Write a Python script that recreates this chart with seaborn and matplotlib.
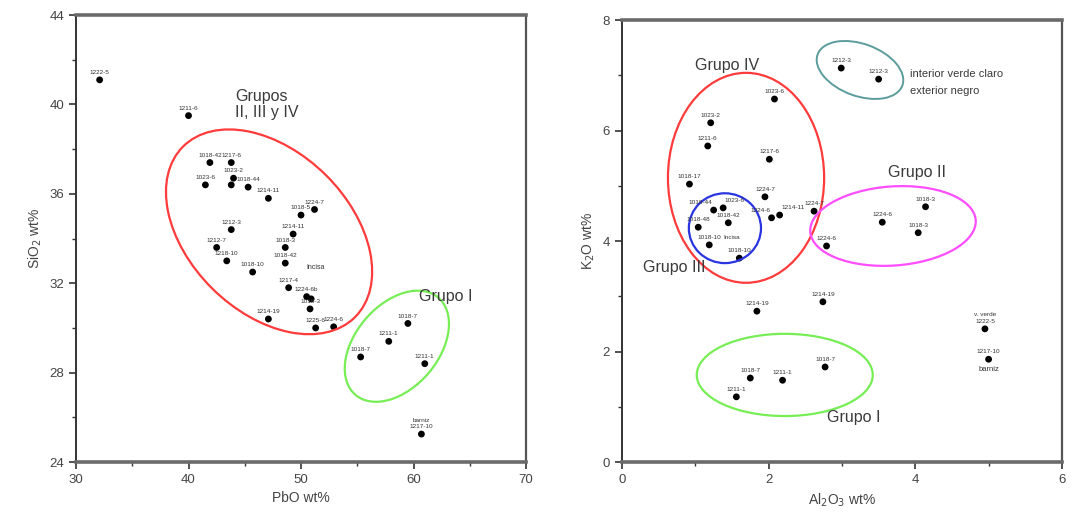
import matplotlib
matplotlib.use("Agg")
import matplotlib.pyplot as plt
import seaborn as sns
import pandas as pd
from matplotlib.patches import Ellipse

# ---------------- data: left panel (PbO vs SiO2) ----------------
pbo = [32.1, 40.0, 41.9, 43.8, 41.5, 44.0, 43.8, 45.3, 47.1, 50.0, 51.2, 43.8,
       49.3, 42.5, 43.4, 45.7, 48.6, 48.6, 48.9, 50.5, 50.9, 50.8, 47.1, 51.3,
       52.9, 59.5, 57.8, 55.3, 61.0, 60.7]
sio2 = [41.1, 39.5, 37.4, 37.4, 36.4, 36.7, 36.4, 36.3, 35.8, 35.05, 35.3, 34.4,
        34.2, 33.6, 33.0, 32.5, 33.6, 32.9, 31.8, 31.4, 31.3, 30.85, 30.4, 30.0,
        30.05, 30.2, 29.4, 28.7, 28.4, 25.25]
left_labels = ["1222-5", "1211-6", "1018-42", "1217-6", "1023-6", "1023-2", "",
               "1018-44", "1214-11", "1018-5", "1224-7", "1212-3", "1214-11",
               "1212-7", "1218-10", "1018-10", "1018-3", "1018-42", "1217-4",
               "1224-6b", "", "1018-3", "1214-19", "1225-6", "1224-6", "1018-7",
               "1211-1", "1018-7", "1211-1", "barniz\n1217-10"]

# ---------------- data: right panel (Al2O3 vs K2O) ----------------
al2o3 = [2.08, 1.21, 1.17, 2.01, 0.92, 1.95, 2.62, 1.25, 1.38, 1.45, 1.04, 1.19,
         1.60, 2.04, 2.15, 2.79, 3.55, 4.14, 4.04, 2.99, 3.50, 1.84, 2.74, 2.77,
         1.75, 2.19, 1.56, 4.95, 5.00]
k2o = [6.57, 6.14, 5.72, 5.48, 5.03, 4.80, 4.54, 4.56, 4.60, 4.33, 4.25, 3.93,
       3.69, 4.42, 4.47, 3.91, 4.34, 4.62, 4.15, 7.13, 6.93, 2.73, 2.90, 1.72,
       1.52, 1.48, 1.18, 2.41, 1.86]
right_labels = ["1023-6", "1023-2", "1211-6", "1217-6", "1018-17", "1224-7",
                "1224-7", "1018-44", "1023-6", "1018-42", "1018-48", "1018-10",
                "1018-10", "1224-6", "1214-11", "1224-6", "1224-6", "1018-3",
                "1018-3", "1212-3", "1212-3", "1214-19", "1214-19", "1018-7",
                "1018-7", "1211-1", "1211-1", "v. verde\n1222-5", "1217-10"]

df_left = pd.DataFrame({"PbO": pbo, "SiO2": sio2, "label": left_labels})
df_right = pd.DataFrame({"Al2O3": al2o3, "K2O": k2o, "label": right_labels})

# label placement tweaks (index -> (dx, dy, ha)) for crowded spots
right_offsets = {7: (-1, 3.5, "right"), 8: (1, 3.5, "left"),
                 13: (-1, 3.5, "right"), 14: (1, 3.5, "left")}

sns.set_theme(style="white")
plt.rcParams["font.family"] = ["Liberation Sans", "DejaVu Sans"]

fig = plt.figure(figsize=(10.72, 5.24), dpi=100)
axL = fig.add_axes([0.0709, 0.1183, 0.4198, 0.853])
axR = fig.add_axes([0.5802, 0.1183, 0.4104, 0.8435])

lab_col = "#333333"
txt_col = "#3a3a3a"


def style_axes(ax):
    for side in ["top", "bottom"]:
        ax.spines[side].set_linewidth(2.6)
        ax.spines[side].set_color("#6a6a6a")
    ax.spines["left"].set_linewidth(1.4)
    ax.spines["left"].set_color("#333333")
    ax.spines["right"].set_linewidth(1.6)
    ax.spines["right"].set_color("#555555")
    ax.tick_params(axis="both", which="major", direction="out", length=5,
                   width=1.2, color="#333333", labelsize=9.5, labelcolor="#444444",
                   bottom=True, left=True)
    ax.tick_params(axis="both", which="minor", direction="out", length=3,
                   width=1.0, color="#333333", bottom=True, left=True)


# ---------------- left panel ----------------
sns.scatterplot(data=df_left, x="PbO", y="SiO2", ax=axL, color="black", s=24,
                edgecolor="none", legend=False)
for x, y, t in zip(df_left["PbO"], df_left["SiO2"], df_left["label"]):
    if t:
        axL.annotate(t, (x, y), xytext=(0, 3.5), textcoords="offset points",
                     ha="center", va="bottom", fontsize=4.6, color=lab_col,
                     linespacing=1.3)
axL.annotate("Incisa", (51.3, 32.55), ha="center", va="bottom", fontsize=5,
             color=lab_col)

axL.set_xlim(30, 70)
axL.set_ylim(24, 44)
axL.set_xticks([30, 40, 50, 60, 70])
axL.set_xticks([35, 45, 55, 65], minor=True)
axL.set_yticks([24, 28, 32, 36, 40, 44])
axL.set_yticks([26, 30, 34, 38, 42], minor=True)
axL.set_xlabel("PbO wt%", fontsize=10, color="#444444", labelpad=4)
axL.set_ylabel("SiO$_2$ wt%", fontsize=10, color="#444444", labelpad=4)
style_axes(axL)

axL.add_patch(Ellipse((0.429, 0.515), 0.54, 0.358, angle=-45, transform=axL.transAxes,
                      fill=False, edgecolor="#ff3b3b", linewidth=1.6))
axL.add_patch(Ellipse((0.713, 0.259), 0.285, 0.185, angle=50, transform=axL.transAxes,
                      fill=False, edgecolor="#77ee55", linewidth=1.6))
axL.text(0.353, 0.80, "Grupos\nII, III y IV", transform=axL.transAxes, ha="left",
         va="center", fontsize=11.5, color=txt_col, linespacing=1.05)
axL.text(0.762, 0.371, "Grupo I", transform=axL.transAxes, ha="left",
         va="center", fontsize=11.5, color=txt_col)

# ---------------- right panel ----------------
sns.scatterplot(data=df_right, x="Al2O3", y="K2O", ax=axR, color="black", s=24,
                edgecolor="none", legend=False)
for i, (x, y, t) in enumerate(zip(df_right["Al2O3"], df_right["K2O"],
                                  df_right["label"])):
    if t:
        dx, dy, ha = right_offsets.get(i, (0, 3.5, "center"))
        axR.annotate(t, (x, y), xytext=(dx, dy), textcoords="offset points",
                     ha=ha, va="bottom", fontsize=4.6, color=lab_col,
                     linespacing=1.5)
axR.annotate("barniz", (5.0, 1.86), xytext=(0, -5), textcoords="offset points",
             ha="center", va="top", fontsize=5.5, color=lab_col)
axR.annotate("Incisa", (1.50, 3.93), xytext=(0, 3.5), textcoords="offset points",
             ha="center", va="bottom", fontsize=4.6, color=lab_col)

axR.set_xlim(0, 6)
axR.set_ylim(0, 8)
axR.set_xticks([0, 2, 4, 6])
axR.set_xticks([1, 3, 5], minor=True)
axR.set_yticks([0, 2, 4, 6, 8])
axR.set_yticks([1, 3, 5, 7], minor=True)
axR.set_xlabel("Al$_2$O$_3$ wt%", fontsize=10, color="#444444", labelpad=4)
axR.set_ylabel("K$_2$O wt%", fontsize=10, color="#444444", labelpad=4)
style_axes(axR)

axR.add_patch(Ellipse((0.282, 0.643), 0.355, 0.475, angle=0, transform=axR.transAxes,
                      fill=False, edgecolor="#ff3b3b", linewidth=1.6))
axR.add_patch(Ellipse((0.234, 0.529), 0.164, 0.158, angle=0, transform=axR.transAxes,
                      fill=False, edgecolor="#2a35e0", linewidth=1.6))
axR.add_patch(Ellipse((0.616, 0.534), 0.377, 0.179, angle=4, transform=axR.transAxes,
                      fill=False, edgecolor="#ff4dff", linewidth=1.6))
axR.add_patch(Ellipse((0.541, 0.887), 0.205, 0.118, angle=-20, transform=axR.transAxes,
                      fill=False, edgecolor="#5c9c9c", linewidth=1.4))
axR.add_patch(Ellipse((0.370, 0.197), 0.400, 0.186, angle=0, transform=axR.transAxes,
                      fill=False, edgecolor="#77ee55", linewidth=1.6))

axR.text(0.166, 0.896, "Grupo IV", transform=axR.transAxes, ha="left", va="center",
         fontsize=11.5, color=txt_col)
axR.text(0.605, 0.656, "Grupo II", transform=axR.transAxes, ha="left", va="center",
         fontsize=11.5, color=txt_col)
axR.text(0.048, 0.439, "Grupo III", transform=axR.transAxes, ha="left", va="center",
         fontsize=11.5, color=txt_col)
axR.text(0.466, 0.100, "Grupo I", transform=axR.transAxes, ha="left", va="center",
         fontsize=11.5, color=txt_col)
axR.text(0.655, 0.878, "interior verde claro", transform=axR.transAxes, ha="left",
         va="center", fontsize=8, color=txt_col)
axR.text(0.655, 0.839, "exterior negro", transform=axR.transAxes, ha="left",
         va="center", fontsize=8, color=txt_col)

fig.savefig("out.png", dpi=100)
